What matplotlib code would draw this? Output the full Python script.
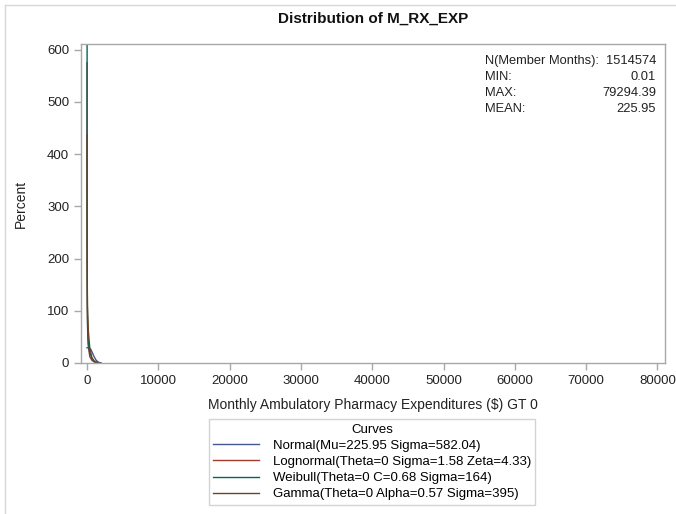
import matplotlib.pyplot as plt
from matplotlib.lines import Line2D

plt.rcParams['font.family'] = ['Liberation Sans', 'DejaVu Sans']

# ----- fitted density curves (Percent) -----
normal_x = [0, 250, 500, 750, 1000, 1250, 1500, 1750, 2000]
normal_y = [29, 30, 27, 20, 12, 6, 2.5, 0.8, 0.2]

lognormal_x = [2, 5, 10, 20, 40, 60, 100, 200, 400, 700, 1000, 1500]
lognormal_y = [575, 437, 300, 200, 160, 100, 60, 30, 12, 5, 2, 0.5]

weibull_x = [1, 20, 60, 100, 150, 200, 400, 700, 1000, 1500]
weibull_y = [2000, 300, 90, 60, 45, 35, 20, 8, 3, 0.5]

gamma_x = [5, 10, 30, 60, 100, 200, 400, 700, 1000, 1500]
gamma_y = [437, 333, 160, 110, 95, 60, 28, 10, 4, 0.8]

curve_labels = ['Normal(Mu=225.95 Sigma=582.04)',
                'Lognormal(Theta=0 Sigma=1.58 Zeta=4.33)',
                'Weibull(Theta=0 C=0.68 Sigma=164)',
                'Gamma(Theta=0 Alpha=0.57 Sigma=395)']
curve_colors = ['#445694', '#A23A2E', '#01665E', '#6B4426']

stat_names = ['N(Member Months):', 'MIN:', 'MAX:', 'MEAN:']
stat_values = ['1514574', '0.01', '79294.39', '225.95']

x_ticks = list(range(0, 80001, 10000))
y_ticks = list(range(0, 601, 100))

fig = plt.figure(figsize=(6.76, 5.14), dpi=100)
ax = fig.add_axes([0.1198, 0.2938, 0.8639, 0.6206])

series = [(normal_x, normal_y), (lognormal_x, lognormal_y),
          (weibull_x, weibull_y), (gamma_x, gamma_y)]
for (xs, ys), col in zip(series, curve_colors):
    ax.plot(xs, ys, color=col, lw=1.0)

ax.set_xlim(-840, 81060)
ax.set_ylim(0, 611)
ax.set_xticks(x_ticks)
ax.set_yticks(y_ticks)

for sp in ax.spines.values():
    sp.set_color('#a8a8a8')
    sp.set_linewidth(1.0)
ax.tick_params(colors='#a8a8a8', labelcolor='#222222', labelsize=9.5,
               length=5, width=1.0, direction='out')

ax.set_xlabel('Monthly Ambulatory Pharmacy Expenditures ($) GT 0',
              fontsize=10, color='#222222', labelpad=8)
ax.set_ylabel('Percent', fontsize=10, color='#222222', labelpad=14)
ax.set_title('Distribution of M_RX_EXP', fontsize=11, fontweight='bold',
             color='#111111', pad=15)

# ----- stats inset -----
for i, (name, val) in enumerate(zip(stat_names, stat_values)):
    y = 1 - (61 - 44 + 16 * i) / 319
    ax.text(0.691, y, name, transform=ax.transAxes, fontsize=9.3,
            ha='left', va='center', color='#222222')
    ax.text(0.985, y, val, transform=ax.transAxes, fontsize=9.3,
            ha='right', va='center', color='#222222')

# ----- legend -----
handles = [Line2D([0], [0], color=c, lw=1.0) for c in curve_colors]
leg = fig.legend(handles, curve_labels, title='Curves', loc='upper center',
                 bbox_to_anchor=(372 / 676, 1 - 419 / 514), fontsize=9.5,
                 title_fontsize=9.5, frameon=True, fancybox=False,
                 handlelength=3.5, handletextpad=1.0, labelspacing=0.3,
                 borderpad=0.35, borderaxespad=0)
leg.get_frame().set_edgecolor('#c8c8c8')
leg.get_frame().set_linewidth(1.0)

# ----- outer frame (top and left) -----
fig.add_artist(Line2D([5 / 676, 1], [1 - 5 / 514, 1 - 5 / 514],
                      color='#d8d8d8', lw=1.0, transform=fig.transFigure))
fig.add_artist(Line2D([5 / 676, 5 / 676], [0, 1 - 5 / 514],
                      color='#d8d8d8', lw=1.0, transform=fig.transFigure))

fig.savefig('out.png', dpi=100)
